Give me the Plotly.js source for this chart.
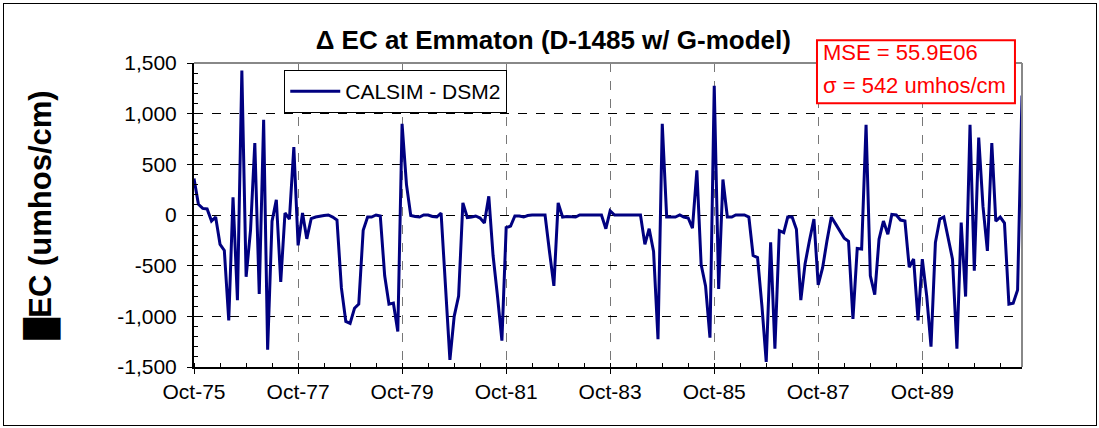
<!DOCTYPE html>
<html>
<head>
<meta charset="utf-8">
<script src="https://cdn.plot.ly/plotly-3.0.1.min.js"></script>
<style>
  body { margin: 0; background: #fff; }
  #chart { position: absolute; left: 3px; top: 3px; width: 1092px; height: 421px; border: 1px solid #000; }
</style>
</head>
<body>
<div id="chart"></div>
<script>
// monthly series, Oct-75 .. Sep-91
var startYear = 1975, startMonth = 10;
var deltaEC = [
  360, 105, 65, 60, -60, -20, -290, -350, -1040, 175, -840, 1425,
  -610, -150, 710, -780, 940, -1330, -60, 150, -660, 20, -40, 670,
  -300, 20, -235, -35, -20, -10, -5, 0, -20, -50, -720, -1050,
  -1070, -920, -880, -150, -20, -20, 0, -10, -600, -880, -870, -1150,
  900, 300, -5, -15, -20, 0, 0, -15, -20, 20, -650, -1430,
  -1000, -800, 120, -25, -20, -10, -30, -80, 185, -400, -800, -1240,
  -125, -110, -10, -10, -20, -5, 0, 0, 0, 0, -360, -700,
  120, -20, -15, -20, -20, 0, 0, 0, 0, 0, 0, -135,
  40, 0, 0, 0, 0, 0, 0, 0, -290, -135, -360, -1225,
  900, -20, -20, -20, 0, -20, -30, -130, 440, -490, -700, -1210,
  1275, -730, 350, -20, -20, 0, 0, 0, -20, -400, -420, -900,
  -1450, -270, -1320, -155, -175, -20, -20, -140, -840, -480, -250, -40,
  -690, -520, -260, -20, -90, -160, -230, -260, -1025, -330, -335, 890,
  -600, -785, -240, -60, -190, 5, 0, -50, -60, -515, -435, -1040,
  -435, -800, -1300, -270, -40, -20, -220, -435, -1320, -75, -805, 890,
  -550, 765, 85, -355, 710, -60, -20, -80, -880, -870, -740, 1180
];

var yTickVals = [-1500, -1000, -500, 0, 500, 1000, 1500];
var yTickText = ['-1,500', '-1,000', '-500', '0', '500', '1,000', '1,500'];

var seriesName = 'CALSIM - DSM2';
var statLines = ['MSE = 55.9E06', '\u03c3 = 542 umhos/cm'];

// build month dates
var xDates = [];
for (var i = 0; i < deltaEC.length; i++) {
  var m = startMonth - 1 + i;
  var yr = startYear + Math.floor(m / 12);
  var mo = (m % 12) + 1;
  xDates.push(yr + '-' + (mo < 10 ? '0' + mo : mo) + '-01');
}

var trace = {
  x: xDates,
  y: deltaEC,
  type: 'scatter',
  mode: 'lines',
  name: seriesName,
  line: { color: '#000080', width: 3 }
};

var font = 'Arial, "Liberation Sans", sans-serif';

var layout = {
  width: 1092,
  height: 421,
  margin: { l: 190, r: 74, t: 59, b: 58 },
  paper_bgcolor: '#fff',
  plot_bgcolor: '#fff',
  font: { family: font, color: '#000', size: 21 },
  title: {
    text: '\u0394 EC at Emmaton (D-1485 w/ G-model)',
    font: { size: 26, weight: 'bold', family: font },
    xref: 'container', x: 0.503, xanchor: 'center',
    yref: 'container', y: 0.915, yanchor: 'middle'
  },
  xaxis: {
    type: 'date',
    range: [xDates[0], xDates[xDates.length - 1]],
    tick0: xDates[0],
    dtick: 'M24',
    tickformat: '%b-%y',
    ticks: 'outside', ticklen: 5, tickcolor: '#000',
    showline: true, linecolor: '#000', linewidth: 2,
    showgrid: true, gridcolor: '#777', griddash: 'dash', gridwidth: 1,
    zeroline: false,
    minor: { dtick: 'M6', tick0: xDates[0], ticks: 'inside', ticklen: 4, tickcolor: '#000', showgrid: false },
    tickfont: { size: 21 }
  },
  yaxis: {
    range: [-1500, 1500],
    tickvals: yTickVals,
    ticktext: yTickText,
    ticks: 'outside', ticklen: 5, tickcolor: '#000',
    ticklabelstandoff: 6,
    showline: true, linecolor: '#000', linewidth: 2,
    showgrid: true, gridcolor: '#000', griddash: 'dash', gridwidth: 1,
    zeroline: false,
    minor: { dtick: 100, ticks: 'inside', ticklen: 4, tickcolor: '#000', showgrid: false },
    tickfont: { size: 21 },
    title: {
      text: '\u2588EC (umhos/cm)',
      font: { size: 31, weight: 'bold' },
      standoff: 56
    }
  },
  showlegend: true,
  legend: {
    x: 0.109, y: 0.977, xanchor: 'left', yanchor: 'top',
    bgcolor: '#fff', bordercolor: '#000', borderwidth: 1,
    itemwidth: 50,
    font: { size: 21 }
  },
  shapes: [
    { type: 'line', xref: 'paper', yref: 'paper', x0: 0, x1: 1, y0: 1, y1: 1, line: { color: '#888', width: 2 } },
    { type: 'line', xref: 'paper', yref: 'paper', x0: 1, x1: 1, y0: 0, y1: 1, line: { color: '#888', width: 2 } },
    { type: 'rect', xref: 'paper', yref: 'paper', x0: 0.7524, x1: 0.9915, y0: 0.868, y1: 1.075,
      fillcolor: '#fff', line: { color: '#ff0000', width: 2 }, layer: 'above' }
  ],
  annotations: [
    { xref: 'paper', yref: 'paper', x: 0.757, y: 1.033, xanchor: 'left', yanchor: 'middle',
      text: statLines[0], showarrow: false, font: { color: '#ff0000', size: 22 } },
    { xref: 'paper', yref: 'paper', x: 0.757, y: 0.925, xanchor: 'left', yanchor: 'middle',
      text: statLines[1], showarrow: false, font: { color: '#ff0000', size: 22 } }
  ]
};

Plotly.newPlot('chart', [trace], layout, { displayModeBar: false, staticPlot: true });
</script>
</body>
</html>
